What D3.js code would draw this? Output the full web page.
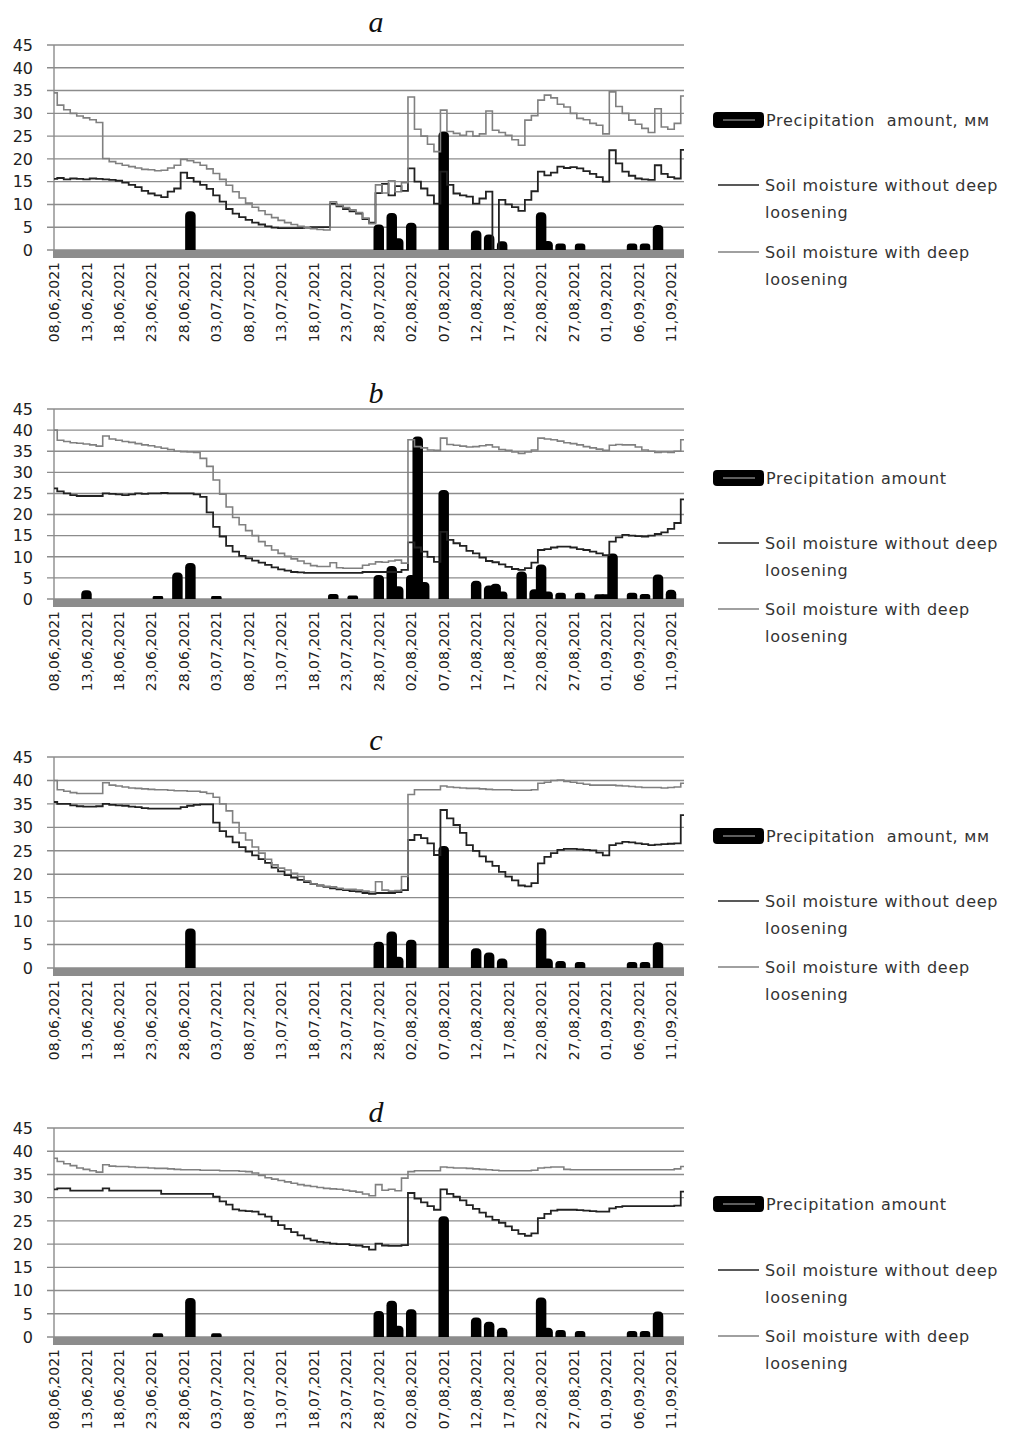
<!DOCTYPE html>
<html lang="en">
<head>
  <meta charset="UTF-8">
  <title>Soil moisture and precipitation</title>
  <script src="https://d3js.org/d3.v7.min.js"></script>
  <style>
    body { margin: 0; padding: 0; background: #fff; }
    svg { display: block; }
    .ylab { font-family: "DejaVu Sans", sans-serif; font-size: 16px; fill: #222; }
    .xlab { font-family: "DejaVu Sans", sans-serif; font-size: 14px; fill: #222; }
    .legend { font-family: "DejaVu Sans", sans-serif; font-size: 16px; letter-spacing: 0.7px; fill: #333; white-space: pre; }
    .ptitle { font-family: "Liberation Serif", serif; font-style: italic; font-size: 30px; fill: #111; }
  </style>
</head>
<body>
<svg id="chart" width="1010" height="1450"></svg>
<script>
  // days 08.06.2021 ... 13.09.2021
  const days = d3.timeDay.range(new Date(2021, 5, 8), new Date(2021, 8, 14));
  const fmt = d3.timeFormat("%d,%m,%Y");
  const dayKeys = days.map(fmt);

  const tickLabels = ["08,06,2021", "13,06,2021", "18,06,2021", "23,06,2021", "28,06,2021",
    "03,07,2021", "08,07,2021", "13,07,2021", "18,07,2021", "23,07,2021", "28,07,2021",
    "02,08,2021", "07,08,2021", "12,08,2021", "17,08,2021", "22,08,2021", "27,08,2021",
    "01,09,2021", "06,09,2021", "11,09,2021"];
  const yTicks = [0, 5, 10, 15, 20, 25, 30, 35, 40, 45];

  // precipitation, mm (date, value)
  const precipA = [["29,06,2021", 8.5], ["28,07,2021", 5.6], ["30,07,2021", 8.1], ["31,07,2021", 2.6],
    ["02,08,2021", 6.0], ["07,08,2021", 26.0], ["12,08,2021", 4.3], ["14,08,2021", 3.4], ["16,08,2021", 1.9],
    ["22,08,2021", 8.3], ["23,08,2021", 2.0], ["25,08,2021", 1.4], ["28,08,2021", 1.4],
    ["05,09,2021", 1.4], ["07,09,2021", 1.4], ["09,09,2021", 5.5]];
  const precipB = [["13,06,2021", 2.1], ["24,06,2021", 0.7], ["27,06,2021", 6.3], ["29,06,2021", 8.5],
    ["03,07,2021", 0.7], ["21,07,2021", 1.2], ["24,07,2021", 0.8], ["28,07,2021", 5.7], ["30,07,2021", 7.8],
    ["31,07,2021", 3.0], ["02,08,2021", 5.7], ["03,08,2021", 38.5], ["04,08,2021", 4.0], ["07,08,2021", 25.8],
    ["12,08,2021", 4.3], ["14,08,2021", 3.2], ["15,08,2021", 3.6], ["16,08,2021", 1.8], ["19,08,2021", 6.5],
    ["21,08,2021", 2.3], ["22,08,2021", 8.2], ["23,08,2021", 1.8], ["25,08,2021", 1.5], ["28,08,2021", 1.5],
    ["31,08,2021", 1.1], ["01,09,2021", 1.1], ["02,09,2021", 10.8], ["05,09,2021", 1.5], ["07,09,2021", 1.2],
    ["09,09,2021", 5.8], ["11,09,2021", 2.2]];
  const precipC = [["29,06,2021", 8.4], ["28,07,2021", 5.6], ["30,07,2021", 7.8], ["31,07,2021", 2.4],
    ["02,08,2021", 6.0], ["07,08,2021", 26.0], ["12,08,2021", 4.2], ["14,08,2021", 3.3], ["16,08,2021", 2.0],
    ["22,08,2021", 8.5], ["23,08,2021", 2.0], ["25,08,2021", 1.5], ["28,08,2021", 1.3],
    ["05,09,2021", 1.3], ["07,09,2021", 1.3], ["09,09,2021", 5.5]];
  const precipD = [["24,06,2021", 0.8], ["29,06,2021", 8.4], ["03,07,2021", 0.8], ["28,07,2021", 5.6],
    ["30,07,2021", 7.8], ["31,07,2021", 2.4], ["02,08,2021", 6.0], ["07,08,2021", 26.0], ["12,08,2021", 4.2],
    ["14,08,2021", 3.3], ["16,08,2021", 2.0], ["22,08,2021", 8.5], ["23,08,2021", 2.0], ["25,08,2021", 1.5],
    ["28,08,2021", 1.3], ["05,09,2021", 1.3], ["07,09,2021", 1.3], ["09,09,2021", 5.5]];

  // soil moisture without deep loosening (daily)
  const withoutA = [15.6, 15.8, 15.5, 15.7, 15.6, 15.5, 15.7, 15.6, 15.5, 15.4, 15.2, 14.8, 14.3, 13.8, 13.0, 12.4,
    12.0, 11.6, 12.8, 13.5, 17.0, 15.8, 15.0, 14.3, 13.4, 12.0, 10.6, 9.0, 8.0, 7.2, 6.6, 6.0, 5.6, 5.2, 4.9, 4.8,
    4.8, 4.8, 4.8, 4.9, 5.0, 5.0, 5.0, 10.2, 9.6, 9.0, 8.5, 8.0, 6.8, 6.0, 12.5, 14.5, 12.0, 14.0, 13.0, 17.9, 15.0,
    13.5, 12.0, 10.2, 17.2, 14.3, 12.4, 12.0, 11.7, 10.2, 11.3, 12.8, 0, 11.0, 10.0, 9.4, 8.6, 11.0, 12.9, 17.2,
    16.4, 17.0, 18.3, 18.0, 18.2, 17.9, 17.3, 16.7, 16.0, 15.0, 21.9, 19.0, 17.2, 16.3, 15.7, 15.5, 15.4, 18.6,
    16.7, 16.0, 15.7, 22.0];
  const withoutB = [26.2, 25.5, 25.0, 24.6, 24.4, 24.4, 24.4, 24.4, 25.0, 24.9, 24.8, 24.6, 24.8, 25.0, 24.9, 25.0,
    25.0, 25.1, 25.0, 25.0, 25.0, 25.0, 24.8, 24.2, 20.5, 17.1, 14.8, 12.6, 11.2, 10.2, 9.6, 9.1, 8.6, 8.1, 7.5, 7.0,
    6.7, 6.4, 6.3, 6.2, 6.2, 6.2, 6.2, 6.2, 6.2, 6.2, 6.2, 6.2, 6.4, 6.4, 6.4, 6.4, 6.4, 6.4, 6.9, 13.4, 12.2, 11.2,
    10.0, 8.8, 15.9, 14.0, 13.2, 12.6, 11.4, 10.8, 9.8, 9.0, 8.7, 8.2, 7.6, 7.1, 6.9, 7.3, 8.6, 11.6, 11.8, 12.2,
    12.4, 12.4, 12.2, 11.8, 11.6, 11.2, 10.8, 10.4, 13.6, 14.6, 15.2, 15.0, 14.9, 14.8, 15.0, 15.4, 15.8, 16.6,
    18.0, 23.6];
  const withoutC = [35.4, 35.0, 35.0, 34.7, 34.5, 34.4, 34.4, 34.5, 35.0, 34.8, 34.7, 34.6, 34.4, 34.3, 34.1, 34.0,
    34.0, 34.0, 34.0, 34.0, 34.3, 34.6, 34.8, 34.9, 34.9, 31.0, 29.2, 28.0, 26.8, 25.8, 24.8, 24.0, 23.2, 22.4, 21.4,
    20.6, 19.8, 19.3, 18.8, 18.3, 17.9, 17.6, 17.3, 17.0, 16.8, 16.6, 16.4, 16.3, 16.0, 15.8, 16.0, 16.0, 16.0, 16.2,
    16.6, 27.3, 28.4, 27.7, 26.6, 24.1, 33.7, 31.9, 30.5, 28.8, 26.2, 25.0, 23.8, 22.7, 21.8, 20.5, 19.5, 18.7, 17.6,
    17.4, 18.1, 22.3, 23.7, 24.5, 25.2, 25.4, 25.4, 25.3, 25.2, 25.1, 24.6, 24.0, 26.2, 26.6, 26.9, 26.8, 26.6, 26.4,
    26.2, 26.3, 26.4, 26.5, 26.6, 32.6];
  const withoutD = [31.8, 32.0, 32.0, 31.5, 31.5, 31.5, 31.5, 31.5, 32.0, 31.5, 31.5, 31.5, 31.5, 31.5, 31.5, 31.5,
    31.5, 30.8, 30.8, 30.8, 30.8, 30.8, 30.8, 30.8, 30.8, 30.2, 29.2, 28.5, 27.5, 27.2, 27.1, 27.0, 26.4, 25.9, 25.0,
    24.1, 23.3, 22.6, 21.9, 21.2, 20.8, 20.5, 20.3, 20.1, 20.0, 20.0, 19.8, 19.7, 19.4, 18.8, 20.1, 19.7, 19.6, 19.6,
    19.8, 31.0, 29.8, 29.0, 28.2, 27.4, 31.8, 30.8, 30.2, 29.4, 28.4, 27.6, 26.8, 25.9, 25.2, 24.6, 23.8, 23.0, 22.2,
    21.8, 22.3, 25.6, 26.5, 27.2, 27.4, 27.4, 27.4, 27.3, 27.2, 27.1, 27.0, 27.0, 27.7, 28.0, 28.2, 28.2, 28.2, 28.2,
    28.2, 28.2, 28.2, 28.2, 28.3, 31.3];

  // soil moisture with deep loosening (daily)
  const withA = [34.5, 31.8, 30.8, 30.0, 29.4, 29.0, 28.6, 28.0, 20.1, 19.4, 19.0, 18.6, 18.3, 18.0, 17.7, 17.6,
    17.4, 17.5, 18.0, 18.6, 19.9, 19.6, 19.2, 18.6, 17.8, 16.8, 15.5, 14.2, 12.8, 11.4, 10.3, 9.4, 8.6, 7.8, 7.1, 6.5,
    6.0, 5.6, 5.2, 4.9, 4.7, 4.5, 4.4, 10.6, 9.8, 9.3, 8.8, 8.2, 7.0, 5.8, 14.3, 12.5, 15.2, 12.8, 14.8, 33.6, 26.5,
    25.0, 23.2, 21.6, 30.7, 26.0, 25.6, 25.2, 26.0, 25.0, 25.5, 30.5, 26.3, 25.8, 25.2, 24.2, 23.0, 28.5, 29.5, 32.9,
    34.0, 33.4, 32.0, 31.4, 30.0, 28.9, 28.6, 27.8, 27.4, 25.5, 34.7, 31.5, 30.0, 28.5, 27.6, 26.7, 25.8, 31.0, 27.0,
    26.5, 27.8, 33.8];
  const withB = [40.0, 37.6, 37.3, 37.0, 36.9, 36.7, 36.5, 36.2, 38.6, 37.9, 37.6, 37.3, 37.1, 36.8, 36.5, 36.3,
    36.0, 35.7, 35.4, 35.0, 34.9, 34.8, 34.7, 33.3, 31.4, 28.2, 24.8, 21.8, 19.3, 17.6, 16.2, 15.0, 13.6, 12.6, 11.6,
    10.8, 10.1, 9.5, 9.0, 8.4, 7.9, 7.7, 7.7, 8.6, 7.4, 7.3, 7.3, 7.3, 8.0, 8.3, 8.8, 8.7, 9.0, 9.2, 8.5, 37.7, 36.1,
    35.8, 35.3, 35.2, 38.1, 36.6, 36.4, 36.2, 36.0, 36.1, 36.3, 36.5, 36.0, 35.4, 35.2, 34.8, 34.5, 34.8, 35.3, 38.1,
    37.9, 37.7, 37.4, 37.0, 36.8, 36.5, 36.1, 35.8, 35.5, 35.2, 36.4, 36.6, 36.5, 36.5, 36.0, 35.3, 35.0, 34.7, 34.8,
    34.7, 35.0, 37.7];
  const withC = [40.0, 38.0, 37.7, 37.4, 37.2, 37.2, 37.2, 37.2, 39.5, 39.0, 38.8, 38.6, 38.4, 38.3, 38.2, 38.1,
    38.0, 38.0, 37.9, 37.8, 37.8, 37.7, 37.7, 37.5, 37.2, 36.4, 35.0, 33.5, 31.0, 28.8, 27.3, 25.8, 24.5, 23.2, 22.0,
    21.3, 20.9, 20.2, 19.5, 18.6, 17.9, 17.6, 17.4, 17.3, 17.0, 16.8, 16.8, 16.6, 16.4, 16.2, 18.4, 16.6, 16.4, 16.5,
    19.5, 37.0, 38.0, 38.0, 38.0, 38.0, 38.8, 38.6, 38.5, 38.4, 38.3, 38.3, 38.2, 38.1, 38.0, 38.0, 38.0, 37.9, 37.9,
    37.9, 38.0, 39.4, 39.6, 40.0, 40.1, 39.8, 39.6, 39.4, 39.2, 39.0, 39.0, 39.0, 39.0, 38.9, 38.8, 38.7, 38.6, 38.5,
    38.5, 38.5, 38.4, 38.5, 38.6, 39.4];
  const withD = [38.5, 37.8, 37.3, 36.9, 36.4, 36.1, 35.8, 35.5, 37.1, 36.8, 36.7, 36.7, 36.6, 36.5, 36.5, 36.4,
    36.3, 36.3, 36.2, 36.1, 36.0, 36.0, 36.0, 35.9, 35.9, 35.9, 35.8, 35.8, 35.8, 35.7, 35.6, 35.3, 34.8, 34.3, 34.0,
    33.7, 33.4, 33.1, 32.8, 32.6, 32.4, 32.2, 32.0, 31.9, 31.8, 31.6, 31.4, 31.2, 30.8, 30.4, 32.8, 31.6, 31.8, 31.5,
    34.2, 35.6, 35.8, 35.8, 35.8, 35.8, 36.6, 36.5, 36.4, 36.4, 36.3, 36.2, 36.1, 36.0, 35.9, 35.8, 35.8, 35.8, 35.8,
    35.8, 35.9, 36.4, 36.5, 36.6, 36.6, 36.1, 36.0, 36.0, 36.0, 36.0, 36.0, 36.0, 36.0, 36.0, 36.0, 36.0, 36.0, 36.0,
    36.0, 36.0, 36.0, 36.0, 36.2, 36.7];

  const panels = [
    { letter: "a", top: 45, bottom: 250, titleY: 32, precip: precipA, without: withoutA, withL: withA,
      precipLabel: "Precipitation  amount, мм", legY: [120, 185, 252] },
    { letter: "b", top: 409, bottom: 599, titleY: 403, precip: precipB, without: withoutB, withL: withB,
      precipLabel: "Precipitation amount", legY: [478, 543, 609] },
    { letter: "c", top: 757, bottom: 968, titleY: 750, precip: precipC, without: withoutC, withL: withC,
      precipLabel: "Precipitation  amount, мм", legY: [836, 901, 967] },
    { letter: "d", top: 1128, bottom: 1337, titleY: 1122, precip: precipD, without: withoutD, withL: withD,
      precipLabel: "Precipitation amount", legY: [1204, 1270, 1336] }
  ];

  const left = 54, right = 684;
  const gridColor = "#8c8c8c";
  const darkLine = "#222";
  const grayLine = "#808080";

  const x = d3.scalePoint().domain(dayKeys).range([left, right]);
  const svg = d3.select("#chart");

  // bar with rounded top
  function barPath(cx, yTop, yBase, w) {
    const r = Math.min(4.5, (yBase - yTop) / 2, w / 2);
    const x0 = cx - w / 2, x1 = cx + w / 2;
    return `M${x0},${yBase}V${yTop + r}Q${x0},${yTop} ${x0 + r},${yTop}H${x1 - r}Q${x1},${yTop} ${x1},${yTop + r}V${yBase}Z`;
  }

  panels.forEach(function(p) {
    const y = d3.scaleLinear().domain([0, 45]).range([p.bottom, p.top]);
    const g = svg.append("g");

    // gridlines
    g.selectAll(".grid").data(yTicks).enter().append("line")
      .attr("x1", left - 7).attr("x2", right)
      .attr("y1", d => y(d)).attr("y2", d => y(d))
      .attr("stroke", gridColor).attr("stroke-width", 1.4);

    // y axis line
    g.append("line")
      .attr("x1", left).attr("x2", left)
      .attr("y1", y(45)).attr("y2", y(0))
      .attr("stroke", gridColor).attr("stroke-width", 1.4);

    g.selectAll(".ylab").data(yTicks).enter().append("text")
      .attr("class", "ylab")
      .attr("x", 33).attr("y", d => y(d)).attr("dy", "0.36em")
      .attr("text-anchor", "end")
      .text(d => d);

    // precipitation bars
    g.selectAll(".bar").data(p.precip).enter().append("path")
      .attr("d", d => barPath(x(d[0]), y(d[1]), y(0), 10.5))
      .attr("fill", "#000");

    // soil moisture lines
    const line = d3.line()
      .x((d, i) => x(dayKeys[i]))
      .y(d => y(d))
      .curve(d3.curveStep);

    g.append("path").datum(p.without)
      .attr("d", line).attr("fill", "none")
      .attr("stroke", darkLine).attr("stroke-width", 1.8);

    g.append("path").datum(p.withL)
      .attr("d", line).attr("fill", "none")
      .attr("stroke", grayLine).attr("stroke-width", 1.6);

    // thick gray base
    g.append("rect")
      .attr("x", left - 1).attr("y", y(0))
      .attr("width", right - left + 1).attr("height", 8)
      .attr("fill", gridColor);

    // x labels
    g.selectAll(".xlab").data(tickLabels).enter().append("text")
      .attr("class", "xlab")
      .attr("transform", d => `translate(${x(d)},${y(0) + 12}) rotate(-90)`)
      .attr("dy", "0.36em")
      .attr("text-anchor", "end")
      .text(d => d);

    // panel letter
    g.append("text")
      .attr("class", "ptitle")
      .attr("x", 376).attr("y", p.titleY)
      .attr("text-anchor", "middle")
      .text(p.letter);

    // legend
    const lg = g.append("g").attr("transform", "translate(713,0)");
    lg.append("rect")
      .attr("x", 0).attr("y", p.legY[0] - 8)
      .attr("width", 51).attr("height", 16).attr("rx", 4)
      .attr("fill", "#000");
    lg.append("line")
      .attr("x1", 10).attr("x2", 42)
      .attr("y1", p.legY[0]).attr("y2", p.legY[0])
      .attr("stroke", "#bbb").attr("stroke-width", 1);
    lg.append("text").attr("class", "legend")
      .attr("x", 53).attr("y", p.legY[0] + 6)
      .text(p.precipLabel);

    const items = [
      { y: p.legY[1], color: darkLine, lines: ["Soil moisture without deep", "loosening"] },
      { y: p.legY[2], color: grayLine, lines: ["Soil moisture with deep", "loosening"] }
    ];
    items.forEach(function(it) {
      lg.append("line")
        .attr("x1", 5).attr("x2", 46)
        .attr("y1", it.y).attr("y2", it.y)
        .attr("stroke", it.color).attr("stroke-width", 1.6);
      lg.append("text").attr("class", "legend")
        .attr("x", 52).attr("y", it.y + 6)
        .selectAll("tspan").data(it.lines).enter().append("tspan")
        .attr("x", 52).attr("dy", (d, i) => i === 0 ? 0 : 27)
        .text(d => d);
    });
  });
</script>
</body>
</html>
